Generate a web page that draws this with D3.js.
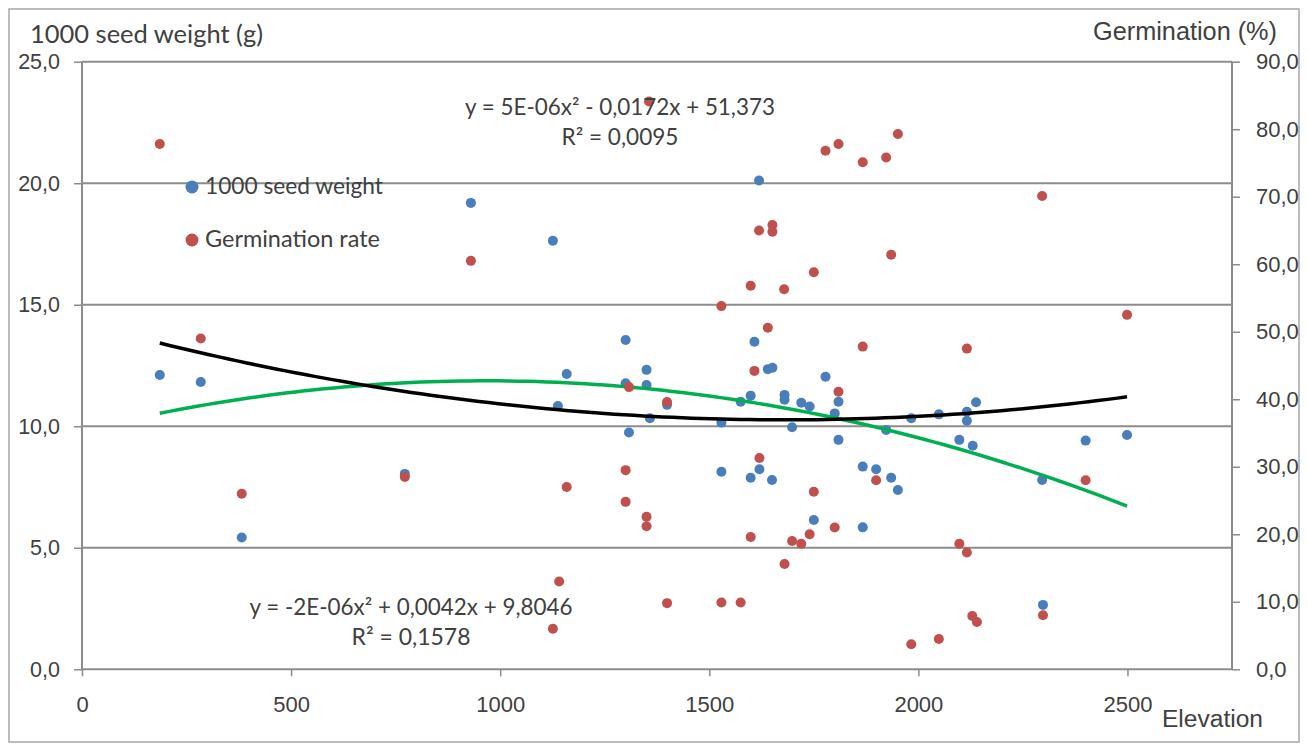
<!DOCTYPE html>
<html><head><meta charset="utf-8">
<script src="https://cdn.jsdelivr.net/npm/d3@7"></script>
<style>body{margin:0;background:#fff} svg{display:block}</style>
</head><body><svg id="c" width="1308" height="744"></svg>
<script>
// ---- data ----
const seedElevation = [186,284,382,772,930,1126,1138,1159,1300,1300,1308,1350,1350,1358,1399,1529,1529,1575,1599,1599,1608,1619,1620,1640,1651,1650,1680,1680,1698,1720,1740,1750,1778,1800,1809,1809,1867,1867,1899,1923,1935,1951,1983,2049,2098,2116,2116,2130,2138,2296,2298,2400,2499];
const seedWeight = [12.11,11.82,5.42,8.04,19.19,17.63,10.83,12.15,13.55,11.77,9.74,12.32,11.70,10.33,10.88,10.15,8.13,11.01,11.26,7.88,13.48,20.11,8.23,12.35,12.41,7.79,11.29,11.09,9.96,10.97,10.81,6.14,12.04,10.53,11.01,9.44,8.34,5.84,8.23,9.85,7.88,7.38,10.33,10.49,9.44,10.60,10.23,9.20,10.99,7.79,2.65,9.41,9.64];
const germElevation = [186,284,382,772,930,1126,1141,1159,1300,1300,1308,1350,1350,1356,1399,1399,1529,1529,1575,1599,1599,1608,1619,1620,1640,1651,1651,1679,1680,1698,1720,1740,1750,1750,1778,1800,1809,1809,1867,1867,1899,1923,1935,1951,1983,2049,2098,2116,2116,2129,2140,2296,2298,2400,2499];
const germRate = [77.8,49.0,26.0,28.5,60.5,6.0,13.0,27.0,29.5,24.8,41.8,22.6,21.2,84.1,39.6,9.8,53.8,9.9,9.9,56.8,19.6,44.2,65.0,31.3,50.6,65.8,64.8,56.3,15.6,19.0,18.6,20.0,58.8,26.3,76.8,21.0,77.8,41.1,75.1,47.8,28.0,75.8,61.4,79.3,3.7,4.5,18.6,47.5,17.3,7.9,7.0,70.1,8.0,28.0,52.5];
const xTicks = [0,500,1000,1500,2000,2500];
const leftTicks = [0,5,10,15,20,25];
const rightTicks = [0,10,20,30,40,50,60,70,80,90];
const seriesNames = ["1000 seed weight","Germination rate"];
const leftTitle = "1000 seed weight (g)";
const rightTitle = "Germination (%)";
const xTitle = "Elevation";
const eqSeed = ["y = -2E-06x² + 0,0042x + 9,8046","R² = 0,1578"];
const eqGerm = ["y = 5E-06x² - 0,0172x + 51,373","R² = 0,0095"];

// ---- layout ----
const L = 82, R = 1232, T = 61.7, B = 669.3;
const svg = d3.select("#c");
const x = d3.scaleLinear([0, 2750], [L, R]);
const yL = d3.scaleLinear([0, 25], [B, T]);
const yR = d3.scaleLinear([0, 90], [B, T]);
const fmt1 = d => d.toFixed(1).replace(".", ",");
const GRID = "#8c8c8c", TXT = "#404040";
const BLUE = "#4a7ebb", RED = "#c0504d", GREEN = "#00b050";
const SANS = "'Liberation Sans', Arial, sans-serif";
const CAL = "Lato, 'Open Sans', sans-serif";

function fit(sel, w) {
  const n = sel.node(); const fs = parseFloat(sel.attr("font-size"));
  const len = n.getComputedTextLength();
  sel.attr("font-size", (fs * w / len).toFixed(2));
  return sel;
}

// outer border
svg.append("rect").attr("x", 9).attr("y", 9).attr("width", 1290).attr("height", 733)
  .attr("fill", "none").attr("stroke", "#a6a6a6").attr("stroke-width", 1.5);

// gridlines
svg.append("g").selectAll("line").data(leftTicks.filter(d => d > 0)).join("line")
  .attr("x1", L).attr("x2", R).attr("y1", d => yL(d)).attr("y2", d => yL(d))
  .attr("stroke", GRID).attr("stroke-width", 2);

// axes
const axL = svg.append("g").attr("transform", `translate(${L},0)`)
  .call(d3.axisLeft(yL).tickValues(leftTicks).tickFormat(fmt1).tickSize(8).tickPadding(14));
const axR = svg.append("g").attr("transform", `translate(${R},0)`)
  .call(d3.axisRight(yR).tickValues(rightTicks).tickFormat(fmt1).tickSize(8).tickPadding(16));
const axB = svg.append("g").attr("transform", `translate(0,${B})`)
  .call(d3.axisBottom(x).tickValues(xTicks).tickFormat(d3.format("d")).tickSize(7).tickPadding(20));
for (const ax of [axL, axR, axB]) {
  ax.select(".domain").attr("stroke", GRID).attr("stroke-width", 2);
  ax.selectAll(".tick line").attr("stroke", GRID).attr("stroke-width", 1.5);
  ax.selectAll(".tick text").attr("fill", TXT).attr("font-family", SANS).attr("font-size", 21);
}
axB.selectAll(".tick text").attr("font-size", 22);
axL.selectAll(".tick text").attr("font-size", 21.5);
axR.selectAll(".tick text").attr("font-size", 22);
axL.select(".domain").attr("d", `M0,${T}V${B}`);
axR.select(".domain").attr("d", `M0,${T}V${B}`);
axB.select(".domain").attr("d", `M${L},0H${R}`);

// polynomial (degree 2) least-squares fit, as the chart's trendlines
function polyfit2(xs, ys) {
  const s = 1000; const S = [0,0,0,0,0], Ty = [0,0,0];
  xs.forEach((xv, i) => { const u = xv / s; let p = 1;
    for (let k = 0; k < 5; k++) { S[k] += p; if (k < 3) Ty[k] += p * ys[i]; p *= u; } });
  const A = [[S[0],S[1],S[2],Ty[0]],[S[1],S[2],S[3],Ty[1]],[S[2],S[3],S[4],Ty[2]]];
  for (let i = 0; i < 3; i++) { for (let j = i + 1; j < 3; j++) { const f = A[j][i] / A[i][i];
    for (let k = i; k < 4; k++) A[j][k] -= f * A[i][k]; } }
  const c = [0,0,0];
  for (let i = 2; i >= 0; i--) { let v = A[i][3]; for (let k = i + 1; k < 3; k++) v -= A[i][k] * c[k]; c[i] = v / A[i][i]; }
  return xv => { const u = xv / s; return c[0] + c[1] * u + c[2] * u * u; };
}
function trend(xs, ys, yScale, color) {
  const f = polyfit2(xs, ys);
  const [a, b] = d3.extent(xs);
  const pts = d3.range(0, 101).map(i => a + (b - a) * i / 100);
  svg.append("path").attr("fill", "none").attr("stroke", color).attr("stroke-width", 3.5)
    .attr("d", d3.line().x(d => x(d)).y(d => yScale(f(d)))(pts));
}

// series 1 (primary axis)
svg.append("g").selectAll("circle").data(seedElevation).join("circle")
  .attr("cx", d => x(d)).attr("cy", (d, i) => yL(seedWeight[i])).attr("r", 5).attr("fill", BLUE);
trend(seedElevation, seedWeight, yL, GREEN);
// series 2 (secondary axis)
svg.append("g").selectAll("circle").data(germElevation).join("circle")
  .attr("cx", d => x(d)).attr("cy", (d, i) => yR(germRate[i])).attr("r", 5).attr("fill", RED);
trend(germElevation, germRate, yR, "#000");

// titles
fit(svg.append("text").attr("x", 30).attr("y", 43).attr("font-family", CAL).attr("font-size", 22)
  .attr("fill", TXT).text(leftTitle), 233);
fit(svg.append("text").attr("x", 1277).attr("y", 40).attr("text-anchor", "end").attr("font-family", SANS)
  .attr("font-size", 24).attr("fill", TXT).text(rightTitle), 184);
fit(svg.append("text").attr("x", 1162).attr("y", 727).attr("font-family", SANS)
  .attr("font-size", 24).attr("fill", TXT).text(xTitle), 101);

// legend
const lg = svg.append("g");
[BLUE, RED].forEach((c, i) => {
  const cy = 187 + i * 53;
  lg.append("circle").attr("cx", 192).attr("cy", cy).attr("r", 6.5).attr("fill", c);
  fit(lg.append("text").attr("x", 205).attr("y", cy + 7).attr("font-family", CAL).attr("font-size", 20)
    .attr("fill", TXT).text(seriesNames[i]), i === 0 ? 178 : 175);
});

// equations
function eq(lines, cx, y0, w0, w1) {
  lines.forEach((t, i) => {
    fit(svg.append("text").attr("x", cx).attr("y", y0 + i * 30).attr("text-anchor", "middle")
      .attr("font-family", CAL).attr("font-size", 20).attr("fill", TXT).text(t), i === 0 ? w0 : w1);
  });
}
eq(eqGerm, 620, 115, 310, 117);
eq(eqSeed, 411, 615, 323, 119);
</script></body></html>
